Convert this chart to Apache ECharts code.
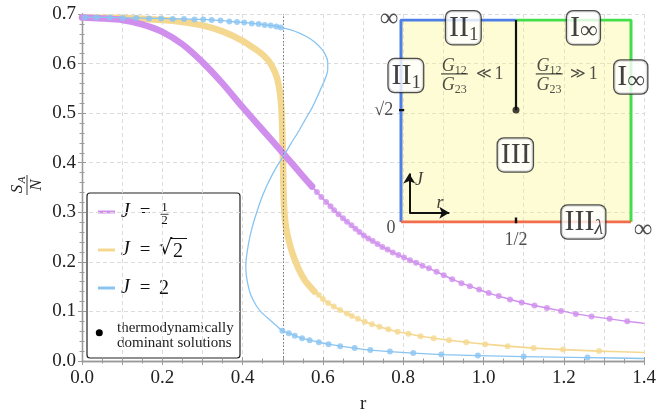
<!DOCTYPE html>
<html><head><meta charset="utf-8">
<script src="https://cdn.jsdelivr.net/npm/echarts@6/dist/echarts.min.js"></script>
<style>html,body{margin:0;padding:0;background:#fff}#c{width:659px;height:419px}</style>
</head><body><div id="c"></div>
<script>
// ---------------- data (r, S_A/N) ----------------
const xTicks = [0.0, 0.2, 0.4, 0.6, 0.8, 1.0, 1.2, 1.4];
const yTicks = [0.0, 0.1, 0.2, 0.3, 0.4, 0.5, 0.6, 0.7];
const seriesNames = ['J = 1/2', 'J = √2', 'J = 2'];

// J = 1/2 : densely sampled dominant part (appears as a solid band)
const purpleBand = [[0,0.693],[0.05,0.691],[0.1,0.688],[0.15,0.679],[0.2,0.664],[0.25,0.639],[0.3,0.603],[0.35,0.560],[0.4,0.512],[0.45,0.466],[0.5,0.420],[0.55,0.373],[0.573,0.352]];
const purpleDots = [[0.573,0.352],[0.585,0.341],[0.596,0.331],[0.608,0.321],[0.619,0.312],[0.628,0.304],[0.639,0.296],[0.650,0.288],[0.660,0.281],[0.671,0.274],[0.681,0.267],[0.691,0.260],[0.702,0.253],[0.713,0.247],[0.724,0.242],[0.736,0.236],[0.748,0.230],[0.761,0.225],[0.774,0.219],[0.788,0.214],[0.802,0.209],[0.817,0.203],[0.832,0.198],[0.848,0.192],[0.864,0.187],[0.883,0.180],[0.901,0.173],[0.922,0.165],[0.945,0.157],[0.966,0.151],[0.989,0.144],[1.013,0.137],[1.038,0.131],[1.066,0.124],[1.095,0.118],[1.127,0.112],[1.158,0.107],[1.193,0.101],[1.230,0.095],[1.269,0.090],[1.314,0.085],[1.358,0.080]];
const purpleEnd = [[1.4,0.076]];

// J = sqrt(2)
const yellowBand = [[0,0.693],[0.1,0.692],[0.2,0.688],[0.25,0.684],[0.3,0.677],[0.35,0.665],[0.4,0.646],[0.43,0.630],[0.45,0.618],[0.465,0.605],[0.475,0.592],[0.485,0.573],[0.49,0.556],[0.494,0.535],[0.497,0.505],[0.499,0.46],[0.5,0.42],[0.501,0.38],[0.502,0.34],[0.504,0.30],[0.508,0.27],[0.515,0.243],[0.525,0.215],[0.54,0.185],[0.555,0.163],[0.57,0.148],[0.579,0.140]];
const yellowDots = [[0.579,0.140],[0.590,0.133],[0.600,0.125],[0.613,0.117],[0.627,0.110],[0.643,0.103],[0.660,0.096],[0.672,0.091],[0.687,0.085],[0.704,0.079],[0.722,0.074],[0.741,0.069],[0.763,0.064],[0.786,0.059],[0.813,0.055],[0.843,0.050],[0.876,0.046],[0.914,0.042],[0.957,0.038],[1.004,0.034],[1.060,0.030],[1.125,0.026],[1.198,0.023],[1.288,0.020]];
const yellowEnd = [[1.4,0.017]];

// J = 2 : upper dominant branch, non-dominant S-shaped part, lower dominant branch
const blueUpperDots = [[0.007,0.693],[0.036,0.693],[0.069,0.693],[0.102,0.692],[0.135,0.692],[0.167,0.691],[0.197,0.691],[0.226,0.690],[0.254,0.690],[0.280,0.689],[0.302,0.689],[0.323,0.688],[0.345,0.687],[0.367,0.685],[0.386,0.684],[0.404,0.683],[0.423,0.681],[0.440,0.680],[0.455,0.678],[0.470,0.677],[0.484,0.675],[0.495,0.673]];
const blueUnstable = [[0.5,0.672],[0.52,0.668],[0.54,0.662],[0.56,0.654],[0.58,0.643],[0.595,0.631],[0.606,0.618],[0.612,0.603],[0.612,0.588],[0.607,0.572],[0.598,0.555],[0.586,0.533],[0.573,0.511],[0.556,0.487],[0.54,0.464],[0.52,0.438],[0.503,0.415],[0.488,0.396],[0.474,0.376],[0.46,0.353],[0.446,0.326],[0.434,0.297],[0.423,0.267],[0.415,0.238],[0.41,0.212],[0.408,0.195],[0.409,0.175],[0.413,0.155],[0.42,0.134],[0.433,0.113],[0.448,0.097],[0.466,0.084],[0.483,0.072]];
const blueLowerDots = [[0.499,0.061],[0.515,0.056],[0.530,0.051],[0.548,0.046],[0.567,0.042],[0.590,0.038],[0.614,0.034],[0.643,0.030],[0.679,0.026],[0.718,0.022],[0.767,0.019],[0.825,0.016],[0.895,0.013],[0.986,0.011],[1.100,0.009],[1.259,0.007]];
const blueEnd = [[1.4,0.005]];

const transitionR = [0.5];

// ---------------- styling ----------------
const SERIF = '"Liberation Serif","DejaVu Serif","Times New Roman",serif';
const P = '#d08fec', Yc = '#f5d890', Bc = '#8ac4f1';
const AX = '#9a9a9a';

const chart = echarts.init(document.getElementById('c'), null, {renderer: 'canvas'});

const tickRich = {v: {fontFamily: SERIF, fontSize: 19, color: '#222'}};
const axisFrame = {show: true, lineStyle: {color: AX, width: 1.3}};
const mainX = (pos, labels) => ({
  type: 'value', gridIndex: 0, position: pos, min: xTicks[0], max: xTicks[xTicks.length-1], interval: 0.1,
  axisLine: axisFrame,
  axisTick: {show: true, inside: true, length: 4, lineStyle: {color: AX}},
  minorTick: {show: true, splitNumber: 2, length: 2.5, lineStyle: {color: AX}},
  axisLabel: {show: labels, margin: 8, fontFamily: SERIF, fontSize: 19, color: '#222', rich: tickRich,
    formatter: v => { const k = Math.round(v*10); return (k % 2 === 0) ? '{v|' + (k/10).toFixed(1) + '}' : ''; }},
  splitLine: {show: labels, lineStyle: {color: '#dcdcdc', type: [4, 3], width: 1}},
  name: labels ? 'r' : '', nameLocation: 'middle', nameGap: 34,
  nameTextStyle: {fontFamily: SERIF, fontSize: 19, color: '#222'}
});
const mainY = (pos, labels) => ({
  type: 'value', gridIndex: 0, position: pos, min: yTicks[0], max: yTicks[yTicks.length-1], interval: 0.1,
  axisLine: axisFrame,
  axisTick: {show: true, inside: true, length: 4, lineStyle: {color: AX}},
  minorTick: {show: true, splitNumber: 5, length: 2.5, lineStyle: {color: AX}},
  axisLabel: {show: labels, margin: 6, fontFamily: SERIF, fontSize: 19, color: '#222', rich: tickRich,
    formatter: v => '{v|' + v.toFixed(1) + '}'},
  splitLine: {show: labels, lineStyle: {color: '#dcdcdc', type: [4, 3], width: 1}}
});

// ---------- inset helpers (inset axes run 0..1 in compactified r and J) ----------
const boxRich = {
  a: {fontFamily: SERIF, fontSize: 30, color: '#111', lineHeight: 32},
  s: {fontFamily: SERIF, fontSize: 19, color: '#111', lineHeight: 15, verticalAlign: 'bottom'},
  inf: {fontFamily: SERIF, fontSize: 25, color: '#111', lineHeight: 15, verticalAlign: 'bottom'},
  lam: {fontFamily: SERIF, fontSize: 20, fontStyle: 'italic', color: '#111', lineHeight: 15, verticalAlign: 'bottom'}
};
const insetBoxes = [
  {pos: [0.271, 0.962], text: '{a|II}{s|1}'},
  {pos: [0.793, 0.962], text: '{a|I}{inf|∞}'},
  {pos: [0.021, 0.725], text: '{a|II}{s|1}'},
  {pos: [0.999, 0.718], text: '{a|I}{inf|∞}'},
  {pos: [0.497, 0.332], text: '{a|III}'},
  {pos: [0.793, 0.0], text: '{a|III}{lam|λ}'}
];
const plainRich = {
  g: {fontFamily: SERIF, fontSize: 18, fontStyle: 'italic', color: '#222', lineHeight: 20},
  gs: {fontFamily: SERIF, fontSize: 12, color: '#222', lineHeight: 10, verticalAlign: 'bottom'},
  t: {fontFamily: SERIF, fontSize: 18, color: '#222'},
  cmp: {fontFamily: '"DejaVu Serif",serif', fontSize: 15, color: '#222'},
  inf: {fontFamily: SERIF, fontSize: 26, color: '#222'},
  it: {fontFamily: SERIF, fontSize: 18, fontStyle: 'italic', color: '#111'}
};
const insetTexts = [
  {pos: [0.232, 0.770], text: '{g|G}{gs|12}'},
  {pos: [0.232, 0.676], text: '{g|G}{gs|23}'},
  {pos: [0.385, 0.733], text: '{cmp|≪} {t|1}'},
  {pos: [0.644, 0.770], text: '{g|G}{gs|12}'},
  {pos: [0.644, 0.676], text: '{g|G}{gs|23}'},
  {pos: [0.795, 0.733], text: '{cmp|≫} {t|1}'},
  {pos: [-0.052, 1.005], text: '{inf|∞}'},
  {pos: [1.052, -0.04], text: '{inf|∞}'},
  {pos: [-0.075, 0.552], text: '{t|√2}'},
  {pos: [-0.043, -0.032], text: '{t|0}'},
  {pos: [0.5, -0.09], text: '{t|1/2}'},
  {pos: [0.078, 0.205], text: '{it|J}'},
  {pos: [0.170, 0.094], text: '{it|r}'}
];

const insetLine = (data, color, width, z) => ({
  type: 'line', xAxisIndex: 2, yAxisIndex: 2, data, symbol: 'none', silent: true, animation: false,
  lineStyle: {color, width, cap: 'butt'}, z: z || 20
});

const option = {
  animation: false,
  backgroundColor: '#fff',
  textStyle: {fontFamily: SERIF},
  grid: [
    {left: 82, top: 14, right: 12, bottom: 57, show: false},
    {left: 401, top: 20, width: 230, height: 202, show: true, borderWidth: 0, backgroundColor: 'rgba(250,245,120,0.32)', z: 1}
  ],
  xAxis: [mainX('bottom', true), mainX('top', false),
    {type: 'value', gridIndex: 1, min: 0, max: 1, show: false, splitLine: {show: false}}],
  yAxis: [mainY('left', true), mainY('right', false),
    {type: 'value', gridIndex: 1, min: 0, max: 1, show: false, splitLine: {show: false}}],
  series: [
    // transition line r = 1/2
    {type: 'line', name: 'r=1/2', data: [], xAxisIndex: 0, yAxisIndex: 0, z: 1, silent: true,
     markLine: {silent: true, symbol: 'none', animation: false, label: {show: false},
       lineStyle: {color: '#7a7a7a', type: [1.5, 2], width: 1},
       data: transitionR.map(v => ({xAxis: v}))}},
    // J = sqrt2
    {type: 'line', name: seriesNames[1], data: yellowBand, symbol: 'none', smooth: 0.2, z: 2,
     lineStyle: {color: Yc, width: 6.5, cap: 'round', join: 'round'}},
    {type: 'line', name: seriesNames[1] + ' tail', data: yellowDots.concat(yellowEnd), symbol: 'none', smooth: 0.2, z: 3,
     lineStyle: {color: Yc, width: 1.6}},
    {type: 'scatter', name: seriesNames[1] + ' dots', data: yellowDots, symbolSize: 6, z: 3, itemStyle: {color: Yc}},
    // J = 1/2
    {type: 'line', name: seriesNames[0], data: purpleBand, symbol: 'none', smooth: 0.2, z: 4,
     lineStyle: {color: P, width: 6.5, cap: 'round', join: 'round'}},
    {type: 'line', name: seriesNames[0] + ' tail', data: purpleDots.concat(purpleEnd), symbol: 'none', smooth: 0.2, z: 5,
     lineStyle: {color: P, width: 1.4}},
    {type: 'scatter', name: seriesNames[0] + ' dots', data: purpleDots, symbolSize: 6, z: 5, itemStyle: {color: P}},
    // J = 2
    {type: 'line', name: seriesNames[2], data: blueUpperDots.concat(blueUnstable, blueLowerDots, blueEnd),
     symbol: 'none', smooth: 0.2, z: 6, lineStyle: {color: Bc, width: 1.3}},
    {type: 'scatter', name: seriesNames[2] + ' dots', data: blueUpperDots.concat(blueLowerDots), symbolSize: 6, z: 7,
     itemStyle: {color: Bc}},

    // ---------------- inset phase diagram ----------------
    insetLine([[0, 0], [0, 1], [0.5, 1]], '#4d7fe6', 3),
    insetLine([[0.5, 1], [1, 1], [1, 0]], '#44dd4c', 3),
    insetLine([[0, 0], [1, 0]], '#f26d4b', 3, 21),
    Object.assign(insetLine([[0.5, 1], [0.5, 0.554]], '#111', 2.2, 22), {
      markLine: {silent: true, animation: false, symbol: ['none', 'arrow'], symbolSize: [9, 10], label: {show: false},
        lineStyle: {color: '#111', width: 2, type: 'solid'},
        data: [[{coord: [0.036, 0.046]}, {coord: [0.036, 0.24]}], [{coord: [0.036, 0.046]}, {coord: [0.21, 0.046]}]]}
    }),
    insetLine([[-0.012, 0.554], [0.014, 0.554]], '#111', 2.4, 22),
    insetLine([[0.5, -0.022], [0.5, 0.022]], '#111', 2.4, 22),
    insetLine([[0.174, 0.733], [0.291, 0.733]], '#222', 1, 22),
    insetLine([[0.586, 0.733], [0.703, 0.733]], '#222', 1, 22),
    {type: 'scatter', xAxisIndex: 2, yAxisIndex: 2, data: [[0.5, 0.554]], symbolSize: 7, z: 23, silent: true,
     itemStyle: {color: '#111'}},
    {type: 'scatter', xAxisIndex: 2, yAxisIndex: 2, clip: false, silent: true, symbolSize: 1, z: 24,
     itemStyle: {color: 'rgba(0,0,0,0)'},
     label: {show: true, position: 'inside', color: '#111', backgroundColor: '#fff', borderColor: '#222',
       borderWidth: 1.3, borderRadius: 6, padding: [1, 2, 0, 3], rich: boxRich},
     data: insetBoxes.map(d => ({value: d.pos, label: {formatter: d.text}}))},
    {type: 'scatter', xAxisIndex: 2, yAxisIndex: 2, clip: false, silent: true, symbolSize: 1, z: 24,
     itemStyle: {color: 'rgba(0,0,0,0)'},
     label: {show: true, position: 'inside', color: '#222', rich: plainRich},
     data: insetTexts.map(d => ({value: d.pos, label: {formatter: d.text}}))}
  ],
  graphic: [
    // y-axis title  S_A / N  (rotated)
    {type: 'group', x: 27, y: 186, rotation: Math.PI / 2, silent: true, children: [
      {type: 'text', x: -3, y: -9, style: {text: 'S', font: 'italic 17px ' + SERIF, fill: '#222', align: 'center', verticalAlign: 'middle'}},
      {type: 'text', x: 6, y: -5, style: {text: 'A', font: 'italic 11px ' + SERIF, fill: '#222', align: 'center', verticalAlign: 'middle'}},
      {type: 'line', shape: {x1: -9, y1: 0, x2: 11, y2: 0}, style: {stroke: '#222', lineWidth: 0.9}},
      {type: 'text', x: 1, y: 10, style: {text: 'N', font: 'italic 17px ' + SERIF, fill: '#222', align: 'center', verticalAlign: 'middle'}}
    ]},
    // legend
    {type: 'group', silent: true, z: 30, children: [
      {type: 'rect', shape: {x: 87, y: 193, width: 153, height: 165, r: 3}, style: {fill: 'none', stroke: '#222', lineWidth: 1.2}},
      {type: 'line', shape: {x1: 98, y1: 212, x2: 115, y2: 212}, style: {stroke: P, lineWidth: 3}},
      {type: 'line', shape: {x1: 98, y1: 250, x2: 115, y2: 250}, style: {stroke: Yc, lineWidth: 3}},
      {type: 'line', shape: {x1: 98, y1: 288, x2: 115, y2: 288}, style: {stroke: Bc, lineWidth: 3}},
      {type: 'text', x: 121, y: 212, style: {text: 'J', font: 'italic 20px ' + SERIF, fill: '#111', verticalAlign: 'middle'}},
      {type: 'text', x: 145, y: 212, style: {text: '=', font: '19px ' + SERIF, fill: '#111', align: 'center', verticalAlign: 'middle'}},
      {type: 'text', x: 164.5, y: 207.5, style: {text: '1', font: '13px ' + SERIF, fill: '#111', align: 'center', verticalAlign: 'middle'}},
      {type: 'line', shape: {x1: 160.5, y1: 214.3, x2: 168.5, y2: 214.3}, style: {stroke: '#111', lineWidth: 0.8}},
      {type: 'text', x: 164.5, y: 220.5, style: {text: '2', font: '13px ' + SERIF, fill: '#111', align: 'center', verticalAlign: 'middle'}},
      {type: 'text', x: 121, y: 250, style: {text: 'J', font: 'italic 20px ' + SERIF, fill: '#111', verticalAlign: 'middle'}},
      {type: 'text', x: 145, y: 250, style: {text: '=', font: '19px ' + SERIF, fill: '#111', align: 'center', verticalAlign: 'middle'}},
      {type: 'text', x: 159, y: 249, style: {text: '√', font: '21px "DejaVu Serif",serif', fill: '#111', verticalAlign: 'middle'}},
      {type: 'line', shape: {x1: 171, y1: 238.5, x2: 187, y2: 238.5}, style: {stroke: '#111', lineWidth: 1}},
      {type: 'text', x: 173, y: 251.5, style: {text: '2', font: '20px ' + SERIF, fill: '#111', verticalAlign: 'middle'}},
      {type: 'text', x: 121, y: 288, style: {text: 'J', font: 'italic 20px ' + SERIF, fill: '#111', verticalAlign: 'middle'}},
      {type: 'text', x: 145, y: 288, style: {text: '=', font: '19px ' + SERIF, fill: '#111', align: 'center', verticalAlign: 'middle'}},
      {type: 'text', x: 159, y: 289, style: {text: '2', font: '20px ' + SERIF, fill: '#111', verticalAlign: 'middle'}},
      {type: 'circle', shape: {cx: 99.3, cy: 332.7, r: 3.5}, style: {fill: '#000'}},
      {type: 'text', x: 117, y: 328, style: {text: 'thermodynamically', font: '15px ' + SERIF, fill: '#222', verticalAlign: 'middle'}},
      {type: 'text', x: 117, y: 343.5, style: {text: 'dominant solutions', font: '15px ' + SERIF, fill: '#222', verticalAlign: 'middle'}}
    ]}
  ]
};
chart.setOption(option);
</script></body></html>
